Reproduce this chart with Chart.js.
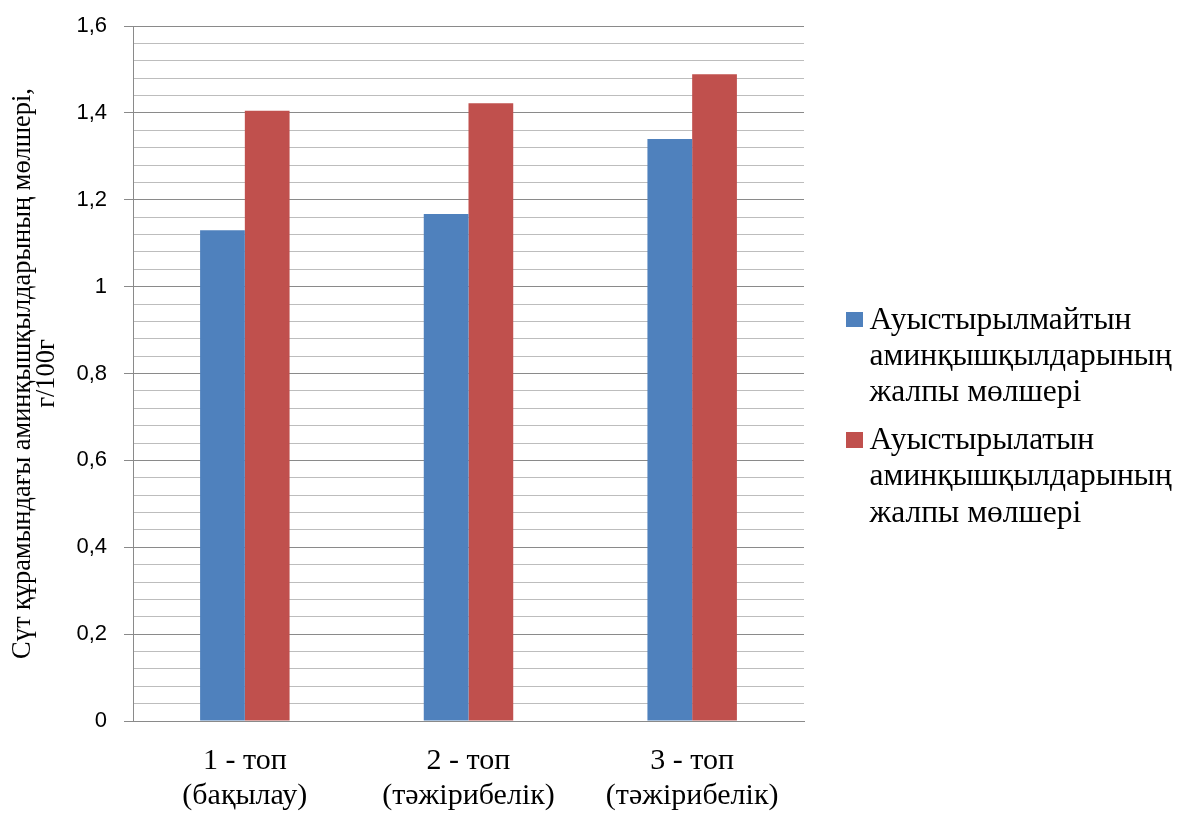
<!DOCTYPE html>
<html>
<head>
<meta charset="utf-8">
<script src="https://cdn.jsdelivr.net/npm/chart.js@4.4.1/dist/chart.umd.min.js"></script>
<style>
  html, body { margin: 0; padding: 0; background: #ffffff; }
  #wrap { position: relative; width: 1180px; height: 813px; overflow: hidden; }
  #legend { position: absolute; left: 846px; top: 300.6px; font-family: "Liberation Serif", "Times New Roman", serif; font-size: 31.5px; line-height: 36.2px; color: #000; }
  .item { position: relative; padding-left: 23.5px; white-space: nowrap; margin-bottom: 12px; }
  .box { position: absolute; left: 0; top: 11px; width: 16.5px; height: 15.5px; }
</style>
</head>
<body>
<div id="wrap">
  <canvas id="c" width="1180" height="813"></canvas>
  <div id="legend"></div>
</div>
<script>
// ---- data ----
const categories = [
  ['1 - топ', '(бақылау)'],
  ['2 - топ', '(тәжірибелік)'],
  ['3 - топ', '(тәжірибелік)']
];
const essentialValues = [1.13, 1.167, 1.34];
const nonEssentialValues = [1.405, 1.422, 1.489];
const seriesNames = [
  ['Ауыстырылмайтын', 'аминқышқылдарының', 'жалпы мөлшері'],
  ['Ауыстырылатын', 'аминқышқылдарының', 'жалпы мөлшері']
];
const yTickLabels = ['0', '0,2', '0,4', '0,6', '0,8', '1', '1,2', '1,4', '1,6'];
const yTitle = ['Сүт құрамындағы аминқышқылдарының мөлшері,', 'г/100г'];

// ---- styles ----
const colors = ['#4F81BD', '#C0504D'];
const majorGrid = '#8a8a8a';
const minorGrid = '#bdbdbd';

const chart = new Chart(document.getElementById('c'), {
  type: 'bar',
  data: {
    labels: categories,
    datasets: [
      { label: seriesNames[0].join(' '), data: essentialValues, backgroundColor: colors[0], borderWidth: 0 },
      { label: seriesNames[1].join(' '), data: nonEssentialValues, backgroundColor: colors[1], borderWidth: 0 }
    ]
  },
  options: {
    responsive: false,
    animation: false,
    devicePixelRatio: 1,
    layout: { padding: { left: 0, top: 26, right: 376, bottom: 0 } },
    datasets: { bar: { categoryPercentage: 0.4, barPercentage: 1.0 } },
    plugins: { legend: { display: false }, tooltip: { enabled: false } },
    scales: {
      x: {
        grid: { display: false, drawTicks: false },
        border: { display: true, color: majorGrid, width: 1 },
        ticks: {
          color: '#000',
          font: { family: '"Liberation Serif", "Times New Roman", serif', size: 30, lineHeight: 1.167 },
          padding: 23,
          maxRotation: 0,
          autoSkip: false
        },
        afterFit: (s) => { s.height = 92; }
      },
      y: {
        min: 0,
        max: 1.6,
        ticks: {
          count: 41,
          autoSkip: false,
          maxTicksLimit: 100,
          padding: 17,
          color: '#000',
          font: { family: '"Liberation Sans", Arial, sans-serif', size: 22 },
          callback: (v, i) => (i % 5 === 0 ? yTickLabels[i / 5] : '')
        },
        grid: {
          color: (ctx) => (ctx.index % 5 === 0 ? majorGrid : minorGrid),
          tickColor: (ctx) => (ctx.index % 5 === 0 ? majorGrid : 'rgba(0,0,0,0)'),
          tickLength: 9,
          lineWidth: 1
        },
        border: { display: true, color: majorGrid, width: 1 },
        title: {
          display: true,
          text: yTitle,
          color: '#000',
          font: { family: '"Liberation Serif", "Times New Roman", serif', size: 26.4, lineHeight: 0.92 },
          padding: { top: 11, bottom: 0 }
        },
        afterFit: (s) => { s.width = 133; s.paddingTop = 0; s.paddingBottom = 0; }
      }
    }
  }
});

// HTML legend built from the chart's datasets
const legend = document.getElementById('legend');
chart.data.datasets.forEach((ds, i) => {
  const item = document.createElement('div');
  item.className = 'item';
  const box = document.createElement('span');
  box.className = 'box';
  box.style.background = ds.backgroundColor;
  item.appendChild(box);
  seriesNames[i].forEach((line, j) => {
    if (j > 0) item.appendChild(document.createElement('br'));
    item.appendChild(document.createTextNode(line));
  });
  legend.appendChild(item);
});
</script>
</body>
</html>
